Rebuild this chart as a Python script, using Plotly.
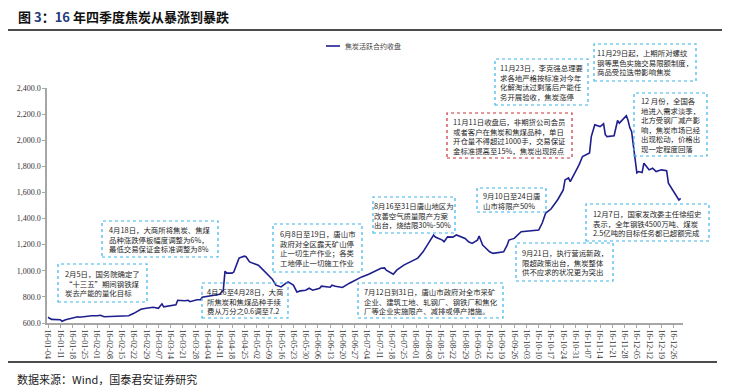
import plotly.graph_objects as go

# ---- data ----
dates = [
    "2016-01-04", "2016-01-06", "2016-01-11", "2016-01-12", "2016-01-14", "2016-01-18",
    "2016-01-21", "2016-01-22", "2016-01-26", "2016-01-29", "2016-02-01", "2016-02-03",
    "2016-02-05", "2016-02-15", "2016-02-17", "2016-02-19", "2016-02-22", "2016-02-24",
    "2016-02-26", "2016-02-29", "2016-03-02", "2016-03-04", "2016-03-07", "2016-03-09",
    "2016-03-10", "2016-03-14", "2016-03-17", "2016-03-18", "2016-03-22", "2016-03-24",
    "2016-03-25", "2016-03-29", "2016-03-31", "2016-04-01", "2016-04-05", "2016-04-07",
    "2016-04-11", "2016-04-13", "2016-04-14", "2016-04-15", "2016-04-18", "2016-04-19",
    "2016-04-21", "2016-04-22", "2016-04-25", "2016-04-26", "2016-04-28", "2016-05-03",
    "2016-05-04", "2016-05-06", "2016-05-09", "2016-05-11", "2016-05-13", "2016-05-16",
    "2016-05-19", "2016-05-20", "2016-05-23", "2016-05-25", "2016-05-27", "2016-05-30",
    "2016-06-01", "2016-06-03", "2016-06-07", "2016-06-08", "2016-06-13", "2016-06-14",
    "2016-06-16", "2016-06-20", "2016-06-24", "2016-06-27", "2016-07-01", "2016-07-05",
    "2016-07-08", "2016-07-12", "2016-07-14", "2016-07-15", "2016-07-19", "2016-07-21",
    "2016-07-25", "2016-07-29", "2016-08-02", "2016-08-05", "2016-08-08", "2016-08-11",
    "2016-08-12", "2016-08-16", "2016-08-17", "2016-08-19", "2016-08-22", "2016-08-24",
    "2016-08-29", "2016-08-31", "2016-09-02", "2016-09-05", "2016-09-06", "2016-09-08",
    "2016-09-09", "2016-09-12", "2016-09-14", "2016-09-20", "2016-09-22", "2016-09-23",
    "2016-09-26", "2016-09-30", "2016-10-10", "2016-10-12", "2016-10-14", "2016-10-17",
    "2016-10-20", "2016-10-21", "2016-10-24", "2016-10-25", "2016-10-27", "2016-10-28",
    "2016-10-31", "2016-11-02", "2016-11-04", "2016-11-08", "2016-11-09", "2016-11-11",
    "2016-11-14", "2016-11-16", "2016-11-17", "2016-11-18", "2016-11-22", "2016-11-24",
    "2016-11-25", "2016-11-29", "2016-11-30", "2016-12-01", "2016-12-02", "2016-12-05",
    "2016-12-06", "2016-12-08", "2016-12-09", "2016-12-12", "2016-12-14", "2016-12-16",
    "2016-12-19", "2016-12-21", "2016-12-22", "2016-12-23", "2016-12-26", "2016-12-28",
    "2016-12-29", "2016-12-30",
]
close_values = [
    644, 628, 625, 613, 625, 636,
    648, 644, 651, 655, 655, 659,
    648, 653, 651, 655, 674, 690,
    705, 713, 717, 721, 713, 747,
    724, 736, 740, 774, 770, 774,
    763, 778, 778, 797, 805, 813,
    820, 851, 997, 982, 982, 990,
    1058, 1097, 1112, 1108, 1068, 1043,
    1030, 1005, 966, 936, 890, 876,
    907, 915, 890, 838, 846, 851,
    866, 851, 866, 882, 874, 890,
    882, 872, 905, 928, 953, 974,
    992, 1020, 1022, 1005, 974, 1005,
    1043, 1068, 1097, 1145, 1212, 1274,
    1258, 1235, 1222, 1260, 1258, 1274,
    1248, 1222, 1210, 1235, 1266, 1197,
    1184, 1145, 1133, 1145, 1197, 1235,
    1248, 1299, 1312, 1366, 1442, 1473,
    1529, 1548, 1619, 1696, 1711, 1683,
    1760, 1811, 1875, 1903, 2028, 2118,
    2105, 2126, 2042, 2028, 2034, 2151,
    2131, 2187, 2151, 2095, 2067, 1750,
    1760, 1752, 1824, 1773, 1786, 1760,
    1773, 1769, 1767, 1671, 1606, 1568,
    1542, 1555,
]
series_name = "焦炭活跃合约收盘"
y_ticks = [600, 800, 1000, 1200, 1400, 1600, 1800, 2000, 2200, 2400]

notes_blue = [
    "2月5日，国务院确定了<br>“十三五”期间钢铁煤<br>炭去产能的量化目标",
    "4月18日，大商所将焦炭、焦煤<br>品种涨跌停板幅度调整为6%，<br>最低交易保证金标准调整为8%",
    "4月26至4月28日，大商<br>所焦炭和焦煤品种手续<br>费从万分之0.6调至7.2",
    "6月8日至19日，唐山市<br>政府对全区露天矿山停<br>止一切生产作业；各类<br>工地停止一切施工作业",
    "7月12日到31日，唐山市政府对全市采矿<br>企业、建筑工地、轧钢厂、钢铁厂和焦化<br>厂等企业实施限产、减排或停产措施。",
    "8月16至31日唐山地区为<br>改善空气质量限产方案<br>出台，烧结限30%-50%",
    "9月10日至24日唐<br>山市将限产50%",
    "9月21日，执行营运新政，<br>限超政策出台，焦炭整体<br>供不应求的状况更为突出",
    "11月23日，李克强总理要<br>求各地严格按标准对今年<br>化解淘汰过剩落后产能任<br>务开展验收，焦炭涨停",
    "11月29日起，上期所对螺纹<br>钢等黑色实施交易限额制度，<br>商品受拉迭带影响焦炭",
    "12 月份，全国各<br>地进入需求淡季，<br>北方受钢厂减产影<br>响，焦炭市场已经<br>出现松动，价格出<br>现一定程度回落",
    "12月7日，国家发改委主任徐绍史<br>表示，全年钢铁4500万吨、煤炭<br>2.5亿吨的目标任务都已超额完成",
]
note_red = "11月11日收盘后，非期货公司会员<br>或者客户在焦炭和焦煤品种，单日<br>开仓量不得超过1000手，交易保证<br>金标准提高至15%，焦炭出现拐点"

# ---- layout geometry (pixels) ----
W, H = 729, 388
L, R, T, B = 47, 683, 88, 323

def px(x):
    return (x - L) / (R - L)

def py(y):
    return (B - y) / (B - T)

blue_boxes = [
    (58, 264, 147, 302),
    (102, 221, 218, 257),
    (202, 283, 288, 318),
    (273, 224, 362, 272),
    (358, 283, 503, 318),
    (373, 197, 455, 233),
    (477, 188, 546, 212),
    (516, 243, 613, 281),
    (495, 59, 588, 105),
    (594, 44, 696, 81),
    (634, 93, 707, 156),
    (586, 204, 709, 241),
]
red_box = (447, 113, 572, 158)

CJK = "Noto Sans CJK SC"
SERIF = "Liberation Serif"

fig = go.Figure()
fig.add_trace(go.Scatter(
    x=dates, y=close_values, mode="lines", name=series_name,
    line=dict(color="#1E1E8E", width=1.6), showlegend=False,
))

shapes = []
annotations = []

def add_box(box, text, color):
    x0, y0, x1, y1 = box
    shapes.append(dict(type="rect", xref="paper", yref="paper",
                       x0=px(x0), x1=px(x1), y0=py(y1), y1=py(y0),
                       line=dict(color=color, width=1.2, dash="dot"),
                       fillcolor="rgba(255,255,255,0)", layer="above"))
    annotations.append(dict(xref="paper", yref="paper",
                            x=px((x0 + x1) / 2), y=py((y0 + y1) / 2),
                            xanchor="center", yanchor="middle", align="left",
                            text=text, showarrow=False,
                            font=dict(family=CJK, size=7.4, color="#262626")))

for b, t in zip(blue_boxes, notes_blue):
    add_box(b, t, "#3BB4EA")
add_box(red_box, note_red, "#C8323A")

# title rule and bottom rule
shapes.append(dict(type="line", xref="paper", yref="paper",
                   x0=px(8), x1=px(722), y0=py(30), y1=py(30),
                   line=dict(color="#111111", width=1.5)))
shapes.append(dict(type="line", xref="paper", yref="paper",
                   x0=px(8), x1=px(717), y0=py(362), y1=py(362),
                   line=dict(color="#111111", width=1.5)))
# legend sample
shapes.append(dict(type="line", xref="paper", yref="paper",
                   x0=px(326), x1=px(340), y0=py(46), y1=py(46),
                   line=dict(color="#1E1E8E", width=1.6)))
annotations.append(dict(xref="paper", yref="paper", x=px(343), y=py(46),
                        xanchor="left", yanchor="middle", showarrow=False,
                        text=series_name,
                        font=dict(family=CJK, size=7, color="#444444")))
# title
annotations.append(dict(xref="paper", yref="paper", x=px(16), y=py(16),
                        xanchor="left", yanchor="middle", showarrow=False,
                        text="<b>图 <span style='color:#1F3A7A'>3</span>：<span style='color:#1F3A7A'>16</span> 年四季度焦炭从暴涨到暴跌</b>",
                        font=dict(family=CJK, size=13, color="#111111")))
# source
annotations.append(dict(xref="paper", yref="paper", x=px(15), y=py(379),
                        xanchor="left", yanchor="middle", showarrow=False,
                        text="数据来源：Wind，国泰君安证券研究",
                        font=dict(family=CJK, size=11, color="#222222")))

fig.update_layout(
    width=W, height=H,
    margin=dict(l=L, r=W - R, t=T, b=H - B, pad=0, autoexpand=False),
    paper_bgcolor="white", plot_bgcolor="white",
    shapes=shapes, annotations=annotations,
    xaxis=dict(
        type="date", range=["2016-01-03 10:00", "2016-12-31 08:00"],
        tick0="2016-01-04", dtick=7 * 24 * 3600 * 1000, tickformat="%y-%m-%d",
        tickangle=90, showgrid=False, zeroline=False, automargin=False,
        showline=True, linecolor="#A6A6A6", linewidth=2,
        ticks="outside", ticklen=3, tickcolor="#A6A6A6",
        tickfont=dict(family=SERIF, size=8, color="#333333"),
    ),
    yaxis=dict(
        range=[600, 2400], tickvals=y_ticks, tickformat=",.1f",
        showgrid=False, zeroline=False, automargin=False,
        showline=True, linecolor="#A6A6A6", linewidth=1.5,
        ticks="outside", ticklen=3, tickcolor="#A6A6A6",
        tickfont=dict(family=SERIF, size=8, color="#333333"),
    ),
)

fig.write_html(
    "out.html",
    config={"displayModeBar": False},
    post_script="document.body.style.margin='0';document.body.style.padding='0';",
)
